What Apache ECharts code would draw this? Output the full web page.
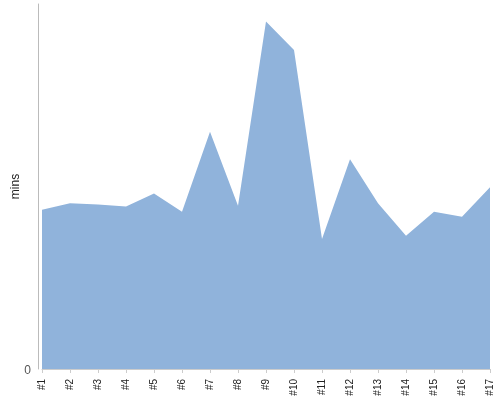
<!DOCTYPE html>
<html>
<head>
<meta charset="utf-8">
<script src="https://cdn.jsdelivr.net/npm/echarts@6/dist/echarts.min.js"></script>
<style>html,body{margin:0;padding:0;background:#fff}#c{width:500px;height:400px}</style>
</head>
<body>
<div id="c"></div>
<script>
var categories = ['#1','#2','#3','#4','#5','#6','#7','#8','#9','#10','#11','#12','#13','#14','#15','#16','#17'];
var minsValues = [43.6,45.4,45.1,44.5,48.1,43.1,65.0,44.7,95.2,87.4,35.6,57.5,45.4,36.5,43.1,41.7,49.8];
var yTickLabels = ['0'];

var chart = echarts.init(document.getElementById('c'), null, {renderer:'canvas'});
chart.setOption({
  animation: false,
  grid: {left: 42, right: 10, top: 4, bottom: 31, containLabel: false, outerBoundsMode: 'none'},
  xAxis: {
    type: 'category',
    data: categories,
    boundaryGap: false,
    offset: 4,
    axisLine: {lineStyle: {color: '#ccc'}},
    axisTick: {show: true, length: 4, lineStyle: {color: '#ccc'}, alignWithLabel: true},
    axisLabel: {rotate: 90, fontSize: 10, color: '#222', margin: 6, fontFamily: 'Liberation Sans', interval: 0}
  },
  yAxis: {
    type: 'value',
    min: 0, max: 100, interval: 100,
    offset: 4,
    name: 'mins',
    nameLocation: 'middle',
    nameGap: 16,
    nameMoveOverlap: false,
    nameTextStyle: {fontSize: 12, color: '#222', fontFamily: 'Liberation Sans'},
    axisLine: {show: true, lineStyle: {color: '#bbb'}},
    axisTick: {show: false},
    splitLine: {show: false},
    axisLabel: {fontSize: 12, color: '#555', margin: 7, fontFamily: 'Liberation Sans', verticalAlign: 'top', lineHeight: 4,
      formatter: function(v){ return yTickLabels.indexOf(String(v)) >= 0 ? String(v) : ''; }}
  },
  series: [{
    type: 'line',
    data: minsValues,
    symbol: 'none',
    lineStyle: {width: 0},
    areaStyle: {color: '#90b3db', opacity: 1},
    itemStyle: {color: '#90b3db'}
  }]
});
</script>
</body>
</html>
